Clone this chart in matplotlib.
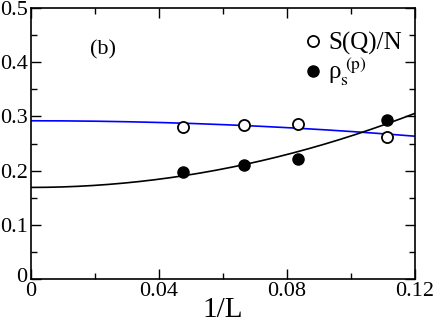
import numpy as np
import matplotlib
matplotlib.use("Agg")
import matplotlib.pyplot as plt
import matplotlib.transforms as mtransforms
from matplotlib.ticker import MultipleLocator

plt.rcParams['font.family'] = ['Liberation Serif', 'DejaVu Serif']
plt.rcParams['mathtext.fontset'] = 'stix'

# data points: x = 1/L for L = 21, 15, 12, 9
inv_L = [1 / 21, 1 / 15, 1 / 12, 1 / 9]
sq_over_n = [0.281, 0.284, 0.286, 0.262]
rho_s = [0.198, 0.211, 0.222, 0.293]

# fit parameters y = a + b * (1/L)^2
sq_fit = (0.292, -1.98)
rho_fit = (0.169, 9.5)

fig = plt.figure(figsize=(4.36, 3.22), dpi=100)
ax = fig.add_axes([0.071, 0.1335, 0.881, 0.8415])

xs = np.linspace(0, 0.12, 200)
ax.plot(xs, sq_fit[0] + sq_fit[1] * xs**2, color='#0000ff', lw=1.2)
ax.plot(xs, rho_fit[0] + rho_fit[1] * xs**2, color='black', lw=1.2)

ax.plot(inv_L, sq_over_n, 'o', ms=8, mfc='white', mec='black', mew=1.3,
        label='S(Q)/N')
ax.plot(inv_L, rho_s, 'o', ms=8, mfc='black', mec='black',
        label=r'ρ$_\mathrm{s}^{\ \mathrm{(p)}}$')

ax.set_xlim(0, 0.12)
ax.set_ylim(0, 0.5)
ax.xaxis.set_minor_locator(MultipleLocator(0.02))
ax.yaxis.set_minor_locator(MultipleLocator(0.05))
ax.set_xticks([0, 0.04, 0.08, 0.12])
ax.set_xticklabels(['0', '0.04', '0.08', '0.12'])
ax.set_yticks([0, 0.1, 0.2, 0.3, 0.4, 0.5])
ax.set_yticklabels(['0', '0.1', '0.2', '0.3', '0.4', '0.5'])
ax.tick_params(which='both', direction='in', top=True, right=True,
               labelsize=16, width=1)
ax.tick_params(which='major', length=7, pad=2)
ax.tick_params(which='minor', length=4)
for s in ax.spines.values():
    s.set_linewidth(1.2)

# nudge the y "0" label so it does not sit on the x "0"
ylab0 = ax.get_yticklabels()[0]
ylab0.set_transform(ylab0.get_transform() +
                    mtransforms.ScaledTranslation(-1 / 100, 4 / 100,
                                                  fig.dpi_scale_trans))

ax.set_xlabel('1/L', fontsize=21, labelpad=-3)
ax.text(0.154, 0.845, '(b)', transform=ax.transAxes, fontsize=16,
        va='center')

ax.legend(loc='upper left', bbox_to_anchor=(0.69, 0.95), frameon=False,
          fontsize=18, handlelength=0.6, handletextpad=0.3,
          labelspacing=0.05, borderaxespad=0.0)

fig.savefig('out.png', dpi=100)
